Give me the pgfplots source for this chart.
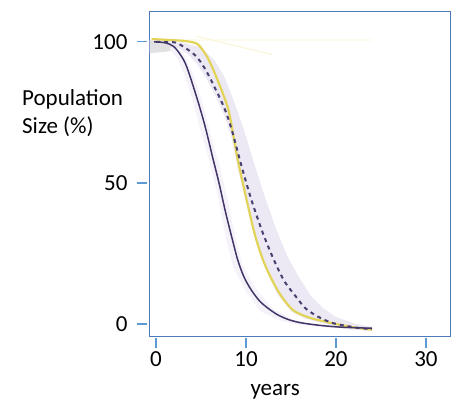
\documentclass[border=0pt]{standalone}
\usepackage{fontspec}
\setmainfont{Carlito}
\usepackage{pgfplots}
\pgfplotsset{compat=1.18}
\definecolor{framecol}{RGB}{79,122,186}
\definecolor{tickcol}{RGB}{91,155,213}
\definecolor{solidcol}{RGB}{66,54,104}
\definecolor{dashcol}{RGB}{72,64,112}
\definecolor{yellowcol}{RGB}{226,212,88}
\definecolor{bandcol}{RGB}{236,232,244}
\definecolor{band2col}{RGB}{246,242,249}
\definecolor{greycol}{RGB}{225,225,228}
\begin{document}
\begin{tikzpicture}[x=1pt,y=1pt]
\begin{axis}[
  at={(149pt,66pt)}, anchor=south west,
  scale only axis, width=301pt, height=325pt,
  xmin=-0.78, xmax=32.67, ymin=-4.6, ymax=110.6,
  axis line style={draw=framecol, line width=1pt},
  xtick={0,10,20,30}, ytick={0,50,100},
  tick align=outside, major tick length=10pt,
  x tick style={draw=tickcol, line width=1.6pt, yshift=-1.5pt},
  y tick style={draw=tickcol, line width=1.2pt, xshift=-2pt},
  xtick pos=bottom, ytick pos=left,
  font=\fontsize{23}{28}\selectfont,
  /pgf/number format/assume math mode=true,
  ticklabel style={font=\fontsize{23}{28}\selectfont},
  yticklabel style={xshift=-8pt},
  xticklabel style={yshift=-1pt},
  xlabel={years}, ylabel={Population\\Size (\%)},
  every axis x label/.style={at={(axis description cs:0.419,-0.181)}, anchor=base},
  every axis y label/.style={at={(axis description cs:-0.422,0.763)}, anchor=north west, align=left, inner sep=0pt},
  clip=true,
]
% grey shading top left
\addplot[fill=greycol, draw=none] coordinates {
 (-0.7,100.6)(1,100.4)(2.2,99.8)(2.6,98)(2,97)(1,96.5)(-0.7,96)
} -- cycle;
% band around solid purple
\addplot[fill=band2col, draw=none] coordinates {
 (2,99.5)(3.2,95)(4.2,88)(5.2,78)(6,68)(7,57)(7.9,45)(8.8,31)(9.6,21)(11.1,12.5)(12.9,5.7)(15.2,1.6)(17.5,0)(21,-0.8)(24,-1.1)
 (24,-2)(20,-1.4)(16,-0.3)(14,1)(11.6,4.5)(10,11.5)(8.6,20)(7.8,30)(6.9,45)(6,57)(5,68)(4.2,78)(3.2,88)(2.4,94)(1.5,97.5)
} -- cycle;
% band around dashed
\addplot[fill=bandcol, draw=none] coordinates {
 (1,100)(3,99.8)(5,98)(6.5,93.5)(7.6,87.5)(8.6,79.5)(9.6,70.5)(10.8,58)(12,46)(13.3,34)(14.6,24)(15.8,17)(17.2,10)(18.6,5.5)(20,2.5)(22,0.2)(24,-1)
 (24,-2.5)(21,-1.8)(18.5,0.3)(16.5,2)(15,4.5)(13.5,10.5)(12.2,19.5)(11,30.5)(10,43)(9.1,55)(8.4,66)(7.6,74)(6.6,81)(5.6,87)(4.6,92)(3.6,95.5)(2.2,98.5)(1,99.5)
} -- cycle;
% faint top lines
\addplot[yellowcol!10, line width=2pt] coordinates {(3,100.6)(24,100.6)};
\addplot[yellowcol!22, line width=1.2pt] coordinates {(4.5,102)(12.9,95.5)};
% yellow
\addplot[yellowcol, line width=2.2pt, smooth] coordinates {
 (-0.5,101)(2,100.6)(3.5,100.2)(4.7,99)(5.8,94)(6.9,86)(8,76.5)(8.5,68.5)(9.1,58)(10,45)(11,31.5)(12.1,21)(13.6,11.5)(15.2,5)(17,2.3)(18.6,1)(20,0)(22,-1.2)(24,-2)
};
% dashed purple
\addplot[dashcol, line width=2pt, dash pattern=on 4pt off 4pt, smooth] coordinates {
 (0,100)(1.3,99.9)(2.4,99.5)(4.3,95.4)(5.4,90.7)(6.5,84)(7.6,76.5)(8.4,69)(9.5,56)(10.6,44)(11.9,32)(13.2,22)(14.3,15)(15.6,9.5)(16.6,5.6)(18,2.6)(19.7,0.3)(22.3,-1.3)(24,-1.8)
};
% solid purple
\addplot[solidcol, line width=1.5pt, smooth] coordinates {
 (-0.2,100)(1,99.7)(2,98.3)(3,94)(3.6,89.5)(4.7,78.5)(5.5,69.5)(6.3,59)(7.0,50)(7.7,40)(8.4,31)(9.1,22.5)(9.8,16.5)(10.6,12)(11.5,8.2)(12.4,5.7)(13.5,3.3)(14.7,1.6)(16,0.5)(18,-0.4)(20,-1)(22,-1.3)(24,-1.5)
};
\end{axis}
\pgfresetboundingbox
\useasboundingbox (0,0) rectangle (457,403);
\end{tikzpicture}
\end{document}
